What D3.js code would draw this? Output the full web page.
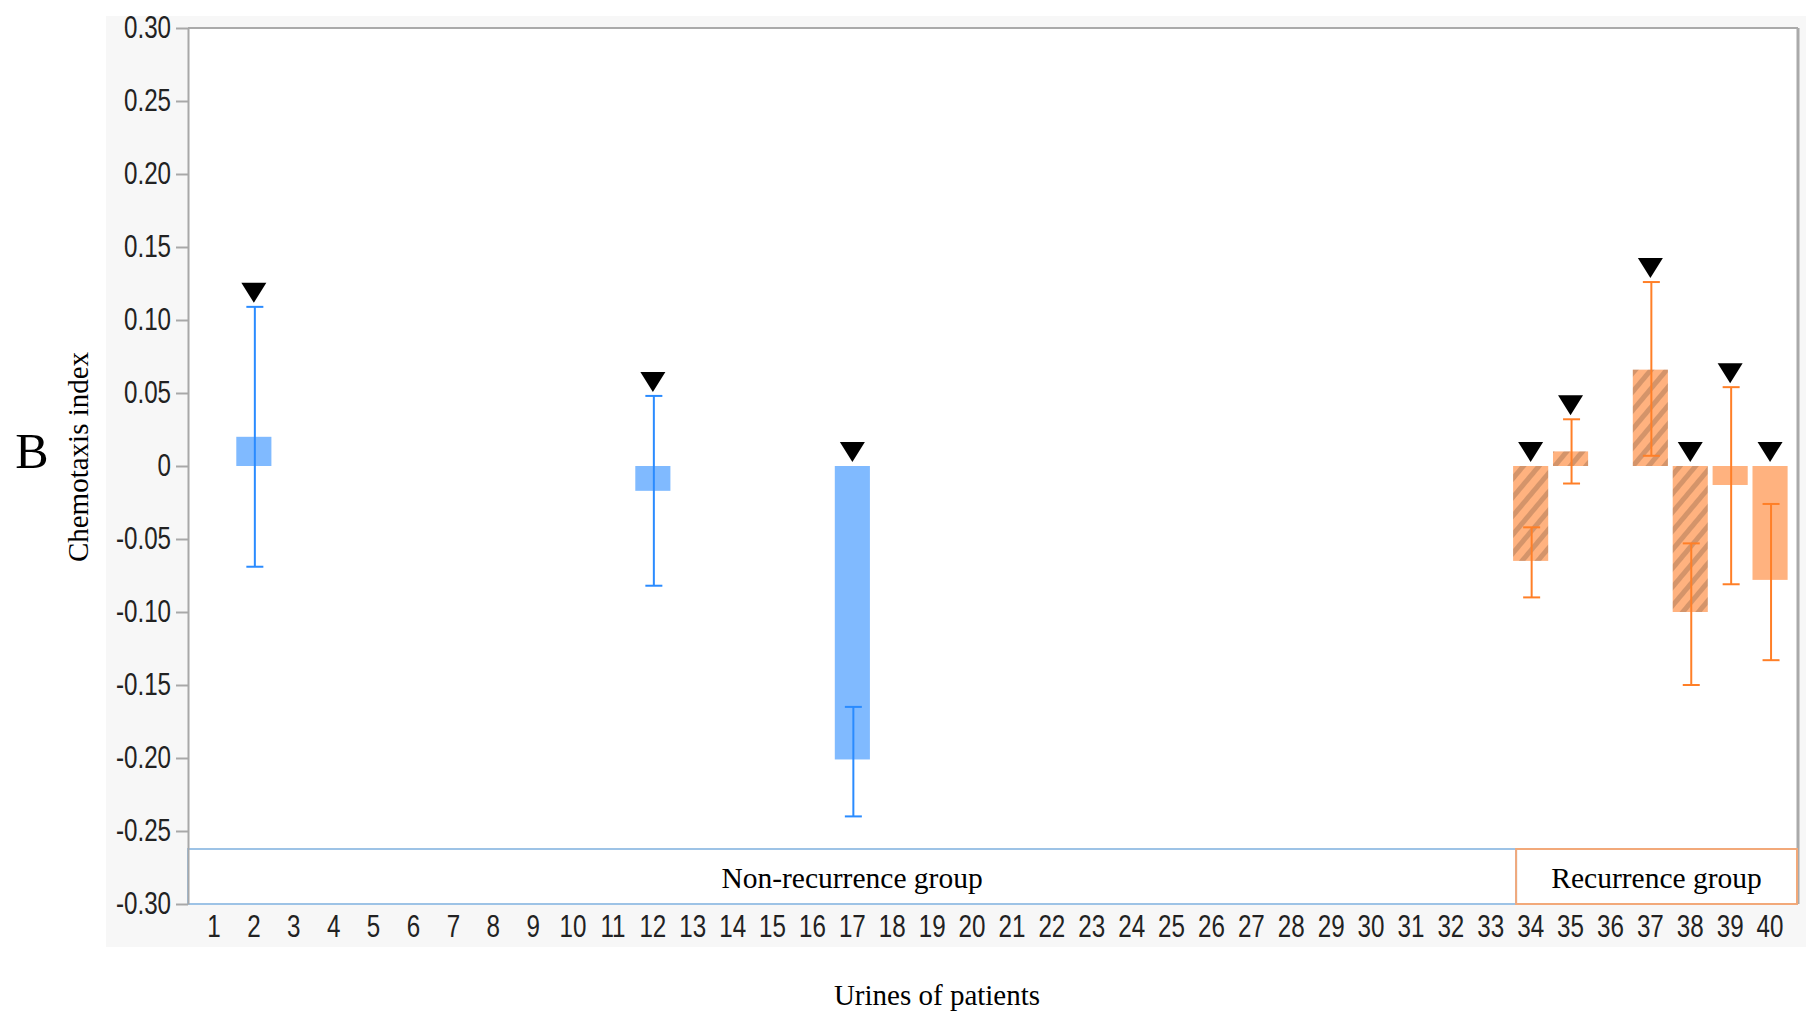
<!DOCTYPE html>
<html>
<head>
<meta charset="utf-8">
<script src="https://cdn.jsdelivr.net/npm/d3@7"></script>
<style>
  body { margin: 0; background: #fff; }
  .tick text { font-family: "Liberation Sans", Arial, sans-serif; font-size: 31px; fill: #222; }
  .serif { font-family: "Liberation Serif", "Times New Roman", serif; fill: #000; }
</style>
</head>
<body>
<svg id="chart" width="1806" height="1015"></svg>
<script>
// patients on the x axis
const patients = ['1','2','3','4','5','6','7','8','9','10','11','12','13','14','15','16','17','18','19','20',
                  '21','22','23','24','25','26','27','28','29','30','31','32','33','34','35','36','37','38','39','40'];

// patients that have a bar
const barPatients = ['2', '12', '17', '34', '35', '37', '38', '39', '40'];
const barValues   = [0.020, -0.017, -0.201, -0.065, 0.010, 0.066, -0.100, -0.013, -0.078];
const errHigh     = [0.109, 0.048, -0.165, -0.042, 0.032, 0.126, -0.053, 0.054, -0.026];
const errLow      = [-0.069, -0.082, -0.240, -0.090, -0.012, 0.007, -0.150, -0.081, -0.133];
const barGroup    = ['non', 'non', 'non', 'rec', 'rec', 'rec', 'rec', 'rec', 'rec'];
const hatched     = [false, false, false, true, true, true, true, false, false];

const yTicks = [0.30, 0.25, 0.20, 0.15, 0.10, 0.05, 0, -0.05, -0.10, -0.15, -0.20, -0.25, -0.30];

const groupNames = ['Non-recurrence group', 'Recurrence group'];
const groupFirst = ['1', '34'];
const groupKeys  = ['non', 'rec'];

const colors = {
    non: { bar: '#80baff', err: '#2a8bff', box: '#9dc3e6' },
    rec: { bar: '#ffb27f', err: '#ff7f27', box: '#f2a97a' }
};

const svg = d3.select('#chart');

const plotLeft = 188, plotRight = 1798, plotTop = 28, plotBottom = 904;
const narrow = 0.78; // tick labels use a condensed sans

let x = d3.scaleBand()
    .domain(patients)
    .range([194, 1790])
    .paddingInner(0.12)
    .paddingOuter(0.06);

let y = d3.scaleLinear()
    .domain([-0.30, 0.30])
    .range([plotBottom, plotTop]);

// grey panel behind the axes
svg.append('rect')
    .attr('x', 106).attr('y', 16)
    .attr('width', 1700).attr('height', 931)
    .attr('fill', '#f7f7f7');

svg.append('rect')
    .attr('x', plotLeft).attr('y', plotTop)
    .attr('width', plotRight - plotLeft).attr('height', plotBottom - plotTop)
    .attr('fill', '#fff');

// hatch pattern for some recurrence bars
let defs = svg.append('defs');
let pat = defs.append('pattern')
    .attr('id', 'hatch')
    .attr('patternUnits', 'userSpaceOnUse')
    .attr('width', 12).attr('height', 12)
    .attr('patternTransform', 'rotate(40)');
pat.append('rect').attr('width', 12).attr('height', 12).attr('fill', colors.rec.bar);
pat.append('rect').attr('x', 0).attr('width', 5).attr('height', 12).attr('fill', '#d4946a');

// plot frame (top and right)
svg.append('line')
    .attr('x1', plotLeft).attr('x2', plotRight)
    .attr('y1', plotTop).attr('y2', plotTop)
    .attr('stroke', '#aaa').attr('stroke-width', 2);
svg.append('line')
    .attr('x1', plotRight).attr('x2', plotRight)
    .attr('y1', plotTop).attr('y2', plotBottom)
    .attr('stroke', '#aaa').attr('stroke-width', 3);

// group boxes
const boxTop = plotBottom - 55;
const divider = x(groupFirst[1]) + 3;
groupNames.forEach((name, i) => {
    let x0 = i === 0 ? plotLeft : divider;
    let x1 = i === 0 ? divider : plotRight - 1;
    svg.append('rect')
        .attr('x', x0).attr('y', boxTop)
        .attr('width', x1 - x0).attr('height', plotBottom - boxTop)
        .attr('fill', 'none')
        .attr('stroke', colors[groupKeys[i]].box)
        .attr('stroke-width', 2);
    svg.append('text')
        .attr('class', 'serif')
        .attr('x', (x0 + x1) / 2)
        .attr('y', boxTop + 39)
        .attr('text-anchor', 'middle')
        .attr('font-size', 29.5)
        .text(name);
});

// y axis
let yAxis = svg.append('g')
    .attr('transform', `translate(${plotLeft},0)`)
    .call(d3.axisLeft(y)
        .tickValues(yTicks)
        .tickSize(12)
        .tickSizeOuter(0)
        .tickPadding(5)
        .tickFormat((d) => d === 0 ? '0' : d.toFixed(2)));
yAxis.select('.domain').attr('stroke', '#a8a8a8').attr('stroke-width', 2);
yAxis.selectAll('.tick line').attr('stroke', '#a8a8a8').attr('stroke-width', 2);
yAxis.selectAll('.tick text')
    .attr('x', -17 / narrow)
    .attr('transform', `scale(${narrow},1)`);

// x axis labels
let xAxis = svg.append('g')
    .attr('transform', `translate(0,${plotBottom})`)
    .call(d3.axisBottom(x).tickSize(0).tickPadding(11));
xAxis.select('.domain').remove();
xAxis.selectAll('.tick text').attr('transform', `scale(${narrow},1)`);

// bars
let bars = barPatients.map((p, i) => ({
    p: p, v: barValues[i], hi: errHigh[i], lo: errLow[i], g: barGroup[i], h: hatched[i]
}));

svg.selectAll('rect.bar')
    .data(bars)
    .enter()
    .append('rect')
    .attr('class', 'bar')
    .attr('x', (d) => x(d.p))
    .attr('width', x.bandwidth())
    .attr('y', (d) => y(Math.max(0, d.v)))
    .attr('height', (d) => Math.abs(y(d.v) - y(0)))
    .attr('fill', (d) => d.h ? 'url(#hatch)' : colors[d.g].bar);

// error bars
let err = svg.selectAll('g.err')
    .data(bars)
    .enter()
    .append('g')
    .attr('class', 'err')
    .attr('stroke', (d) => colors[d.g].err)
    .attr('stroke-width', 2);
const cx = (d) => x(d.p) + x.bandwidth() / 2 + 1;
err.append('line')
    .attr('x1', cx).attr('x2', cx)
    .attr('y1', (d) => y(d.hi)).attr('y2', (d) => y(d.lo));
err.append('line')
    .attr('x1', (d) => cx(d) - 8.5).attr('x2', (d) => cx(d) + 8.5)
    .attr('y1', (d) => y(d.hi)).attr('y2', (d) => y(d.hi));
err.append('line')
    .attr('x1', (d) => cx(d) - 8.5).attr('x2', (d) => cx(d) + 8.5)
    .attr('y1', (d) => y(d.lo)).attr('y2', (d) => y(d.lo));

// black markers above each bar
svg.selectAll('path.marker')
    .data(bars)
    .enter()
    .append('path')
    .attr('class', 'marker')
    .attr('d', (d) => {
        let tx = x(d.p) + x.bandwidth() / 2;
        let ty = y(Math.max(0, d.v, d.hi)) - 4;
        return `M${tx},${ty} L${tx - 12.5},${ty - 20} L${tx + 12.5},${ty - 20} Z`;
    })
    .attr('fill', '#000');

// titles
svg.append('text')
    .attr('class', 'serif')
    .attr('transform', 'translate(88,457) rotate(-90)')
    .attr('text-anchor', 'middle')
    .attr('font-size', 29)
    .text('Chemotaxis index');

svg.append('text')
    .attr('class', 'serif')
    .attr('x', 937).attr('y', 1005)
    .attr('text-anchor', 'middle')
    .attr('font-size', 29)
    .text('Urines of patients');

svg.append('text')
    .attr('class', 'serif')
    .attr('x', 32).attr('y', 468)
    .attr('text-anchor', 'middle')
    .attr('font-size', 50)
    .text('B');
</script>
</body>
</html>
